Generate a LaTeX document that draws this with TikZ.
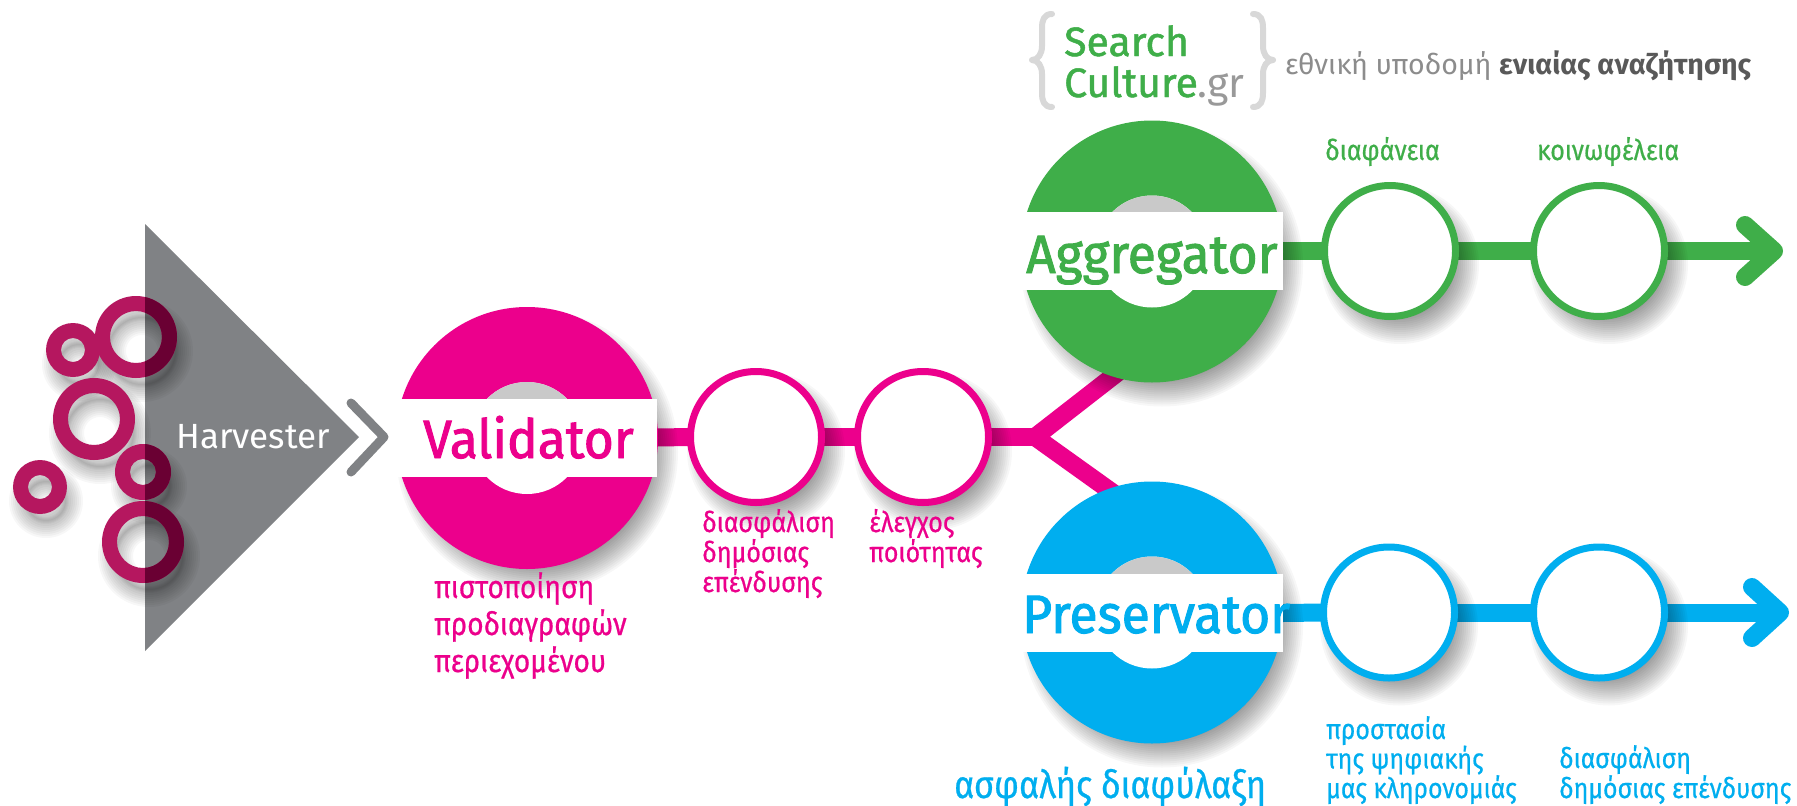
\documentclass[tikz,border=0pt]{standalone}
\usepackage{fontspec}
\setmainfont{Fira Sans}
\newfontfamily\labf[FakeStretch=.88,FakeBold=.6]{Fira Sans}
\newfontfamily\bigf[FakeStretch=.955,FakeBold=1.8]{Fira Sans}
\newfontfamily\logof[FakeBold=1.2]{Fira Sans}
\definecolor{pinkc}{HTML}{EC008C}
\definecolor{greenc}{HTML}{3FAE49}
\definecolor{bluec}{HTML}{00AEEF}
\definecolor{ringc}{HTML}{B5175F}
\definecolor{ringd}{HTML}{6A0033}
\definecolor{greyc}{HTML}{808285}
\definecolor{bracec}{HTML}{D8D8D8}
\definecolor{chordc}{HTML}{C9C9C9}
\pgfdeclarelayer{lines}
\pgfdeclarelayer{shadows}
\pgfsetlayers{lines,shadows,main}
\tikzset{
  x=1pt,y=-1pt,
  disc/.style={circle,draw=none,inner sep=0pt,outer sep=0pt,minimum size=262pt},
  holec/.style={circle,fill=white,draw=none,inner sep=0pt,outer sep=0pt,minimum size=112pt},
  bandb/.style={rectangle,fill=white,draw=none,inner sep=0pt,outer sep=0pt,minimum height=78pt},
  stop/.style={circle,fill=white,line width=7pt,inner sep=0pt,outer sep=0pt,minimum size=131pt},
  big/.style={anchor=base west,inner sep=0pt,font=\fontsize{54}{60}\selectfont\bigf},
  lab/.style 2 args={anchor=base west,inner sep=0pt,align=left,font=\fontsize{#1}{#2}\selectfont\labf},
  bar/.style={line width=18pt},
  tip/.style={line width=18pt,line cap=round,line join=round},
  brc/.style={draw=bracec,line width=6pt,line cap=round,line join=round},
}
% soft shadow of a disc
\newcommand{\softdisc}[3]{%
  \foreach \k in {-16,-14,...,10}{\fill[black,opacity=.03] (#1+10,#2+14) circle[radius=#3+\k];}}
% soft shadow of a ring
\newcommand{\softring}[4]{%
  \foreach \k in {-10,-8,...,10}{\fill[black,opacity=.03,even odd rule] (#1+6,#2+14) circle[radius=#3+\k] (#1+6,#2+14) circle[radius=#4-\k];}}
\newcommand{\ringpath}[4]{(#1,#2) circle[radius=#3] (#1,#2) circle[radius=#4]}
\begin{document}
\begin{tikzpicture}
\useasboundingbox (0,0) rectangle (1797,806);
\begin{pgfonlayer}{lines}
  \fill[white] (0,0) rectangle (1797,806);
  \fill[greyc] (145,224) -- (359,437) -- (145,651) -- cycle;
\end{pgfonlayer}
\begin{pgfonlayer}{shadows}
  \softring{136}{337}{41}{26}
  \softring{73}{350}{27}{12}
  \softring{94}{419}{41}{26}
  \softring{40}{487}{27}{12}
  \softring{143}{472}{28}{13}
  \softring{143}{542}{41}{26}
  \softdisc{527}{438}{131}
  \softdisc{756}{437}{69}
  \softdisc{923}{437}{69}
  \softdisc{1152}{251.5}{131}
  \softdisc{1390}{251}{69}
  \softdisc{1599}{251}{69}
  \softdisc{1152}{612.5}{131}
  \softdisc{1389}{612.5}{69}
  \softdisc{1599}{612.5}{69}
\end{pgfonlayer}
% harvester rings
\fill[ringc,even odd rule] \ringpath{136}{337}{41}{26};
\fill[ringc,even odd rule] \ringpath{73}{350}{27}{12};
\fill[ringc,even odd rule] \ringpath{94}{419}{41}{26};
\fill[ringc,even odd rule] \ringpath{40}{487}{27}{12};
\fill[ringc,even odd rule] \ringpath{143}{472}{28}{13};
\fill[ringc,even odd rule] \ringpath{143}{542}{41}{26};
\begin{scope}
  \clip (145,224) -- (359,437) -- (145,651) -- cycle;
  \fill[ringd,even odd rule] \ringpath{136}{337}{41}{26};
  \fill[ringd,even odd rule] \ringpath{143}{472}{28}{13};
  \fill[ringd,even odd rule] \ringpath{143}{542}{41}{26};
\end{scope}
\node[anchor=base west,inner sep=0pt,font=\fontsize{35}{40}\selectfont,text=white] (harv) at (176,448) {Harvester};
\coordinate (chevA) at (351,403);
\coordinate (chevB) at (384,437);
\coordinate (chevC) at (351,472);
\draw[greyc,line width=9pt,line cap=round,line join=round] (chevA) -- (chevB) -- (chevC);
% big discs
\node[disc,fill=pinkc] (vd) at (527,438) {};
\node[holec] (vh) at (527,438) {};
\node[disc,fill=greenc] (ad) at (1152,251.5) {};
\node[holec] (ah) at (1152,251.5) {};
\node[disc,fill=bluec] (pd) at (1152,612.5) {};
\node[holec] (ph) at (1152,612.5) {};
\begin{scope}\clip (527,438) circle[radius=56]; \fill[chordc] (460,370) rectangle (600,400);\end{scope}
\begin{scope}\clip (1152,251.5) circle[radius=56]; \fill[chordc] (1090,190) rectangle (1215,213);\end{scope}
\begin{scope}\clip (1152,612.5) circle[radius=56]; \fill[chordc] (1090,550) rectangle (1215,575);\end{scope}
\node[bandb,minimum width=264pt] (vb) at (525,437.5) {};
\node[bandb,minimum width=266pt] (ab) at (1150,251) {};
\node[bandb,minimum width=266pt] (pb) at (1150,613) {};
\node[big,text=pinkc] (vt) at (423,458) {Validator};
\node[big,text=greenc] (at) at (1026,273) {Aggregator};
\node[big,text=bluec] (pt) at (1022,633) {Preservator};
% stops
\node[stop,draw=pinkc] (v1) at (756,437) {};
\node[stop,draw=pinkc] (v2) at (923,437) {};
\node[stop,draw=greenc] (a1) at (1390,251) {};
\node[stop,draw=greenc] (a2) at (1599,251) {};
\node[stop,draw=bluec] (p1) at (1389,612.5) {};
\node[stop,draw=bluec] (p2) at (1599,612.5) {};
\coordinate (fork) at (1035,437);
\coordinate (armA) at (1130,363);
\coordinate (armB) at (1130,505);
\coordinate (atip) at (1774,251);
\coordinate (atop) at (1745,225);
\coordinate (abot) at (1745,277);
\coordinate (ptip) at (1780,612.5);
\coordinate (ptop) at (1752,587);
\coordinate (pbot) at (1752,638);
\begin{pgfonlayer}{lines}
  \draw[bar,pinkc] (vb.east) -- (v1.west);
  \draw[bar,pinkc] (v1.east) -- (v2.west);
  \draw[bar,pinkc] (v2.east) -- (fork);
  \draw[bar,pinkc,line join=miter] (armA) -- (fork) -- (armB);
  \draw[bar,greenc] (ab.east) -- (a1.west);
  \draw[bar,greenc] (a1.east) -- (a2.west);
  \draw[bar,greenc] (a2.east) -- (atip);
  \draw[tip,greenc] (atop) -- (atip) -- (abot);
  \draw[bar,bluec] (pb.east) -- (p1.west);
  \draw[bar,bluec] (p1.east) -- (p2.west);
  \draw[bar,bluec] (p2.east) -- (ptip);
  \draw[tip,bluec] (ptop) -- (ptip) -- (pbot);
\end{pgfonlayer}
% labels
\node[lab={32}{37},text=pinkc] (l1) at (434,672) {πιστοποίηση\\προδιαγραφών\\περιεχομένου};
\node[lab={28.5}{30},text=pinkc] (l2) at (702,592) {διασφάλιση\\δημόσιας\\επένδυσης};
\node[lab={28.5}{30},text=pinkc] (l3) at (869,562) {έλεγχος\\ποιότητας};
\node[lab={28.5}{30},text=greenc] (l4) at (1325,160) {διαφάνεια};
\node[lab={28.5}{30},text=greenc] (l5) at (1537,160) {κοινωφέλεια};
\node[lab={38.8}{40},text=bluec] (l6) at (954,798) {ασφαλής διαφύλαξη};
\node[lab={28.3}{29.5},text=bluec] (l7) at (1326,798) {προστασία\\της ψηφιακής\\μας κληρονομιάς};
\node[lab={28.3}{30},text=bluec] (l8) at (1559,798) {διασφάλιση\\δημόσιας επένδυσης};
% logo
\node[anchor=base west,inner sep=0pt,font=\fontsize{41}{41}\selectfont\logof,text=greenc] (s1) at (1064,56) {Search};
\node[anchor=base west,inner sep=0pt,font=\fontsize{41}{41}\selectfont,text=greenc] (s2) at (1064,97) {{\logof Culture}\textcolor{black!40}{.gr}};
\draw[brc] (1052,14) .. controls (1044,14) and (1042,20) .. (1042,28) -- (1042,46) .. controls (1042,54) and (1038,60) .. (1032,60) .. controls (1038,60) and (1042,66) .. (1042,74) -- (1042,93) .. controls (1042,101) and (1044,107) .. (1052,107);
\draw[brc] (1253,14) .. controls (1261,14) and (1263,20) .. (1263,28) -- (1263,46) .. controls (1263,54) and (1267,60) .. (1273,60) .. controls (1267,60) and (1263,66) .. (1263,74) -- (1263,93) .. controls (1263,101) and (1261,107) .. (1253,107);
\node[anchor=base west,inner sep=0pt,font=\fontsize{28.5}{30}\selectfont,text=black!45] (s3) at (1285,74) {εθνική υποδομή \textbf{\textcolor{black!65}{ενιαίας αναζήτησης}}};
\end{tikzpicture}
\end{document}
